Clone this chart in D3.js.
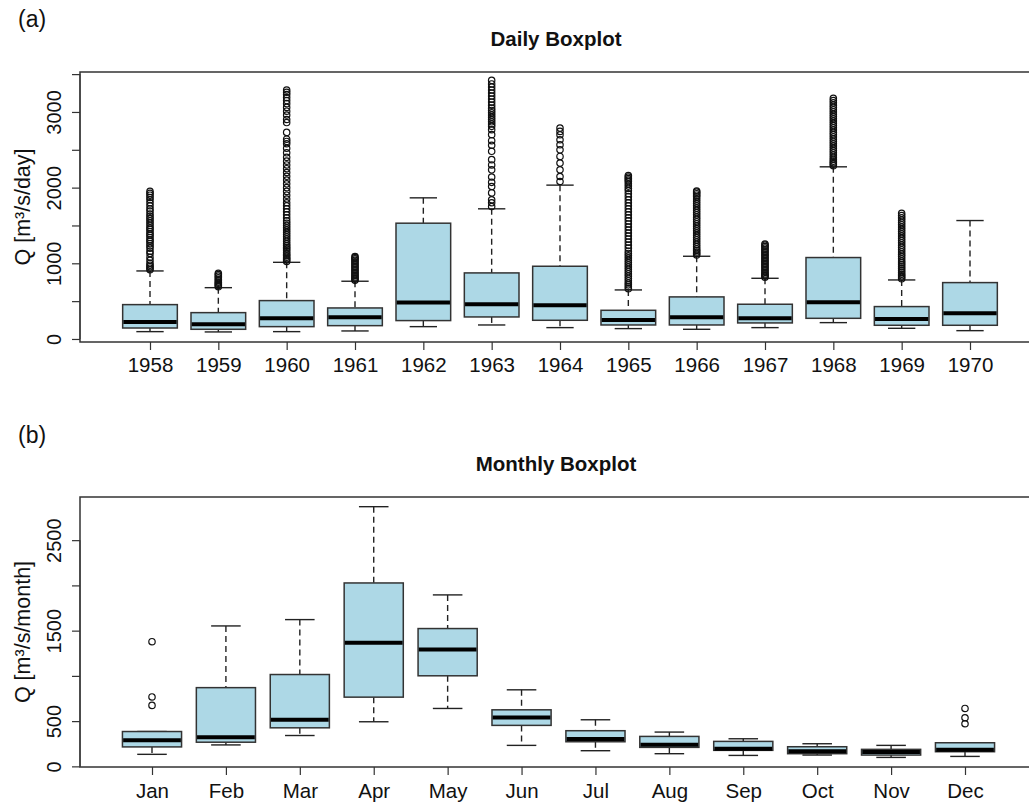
<!DOCTYPE html>
<html>
<head>
<meta charset="utf-8">
<script src="https://cdn.jsdelivr.net/npm/d3@7"></script>
<style>
  body { margin: 0; background: #fff; }
  svg { display: block; font-family: "Liberation Sans", Arial, sans-serif; }
</style>
</head>
<body>
<div id="chart"></div>
<script>
// ---- Daily boxplot data (by year) ----
const years = ["1958", "1959", "1960", "1961", "1962", "1963", "1964", "1965", "1966", "1967", "1968", "1969", "1970"];
const dailyLow = [97, 93, 97, 106, 163, 185, 150, 137, 128, 150, 216, 141, 110];
const dailyQ1 = [145, 128, 163, 176, 243, 291, 247, 185, 185, 212, 273, 181, 181];
const dailyMedian = [225, 194, 273, 287, 481, 459, 446, 251, 287, 273, 485, 265, 340];
const dailyQ3 = [454, 348, 507, 410, 1530, 873, 961, 379, 556, 459, 1076, 428, 745];
const dailyHigh = [899, 678, 1013, 763, 1865, 1720, 2033, 648, 1093, 802, 2275, 780, 1565];
const dailyOutliers = [
  [915, 935, 955, 975, 1000, 1040, 1080, 1130, 1160, 1200, 1230, 1260, 1290, 1310, 1340, 1370, 1390, 1420, 1450, 1470, 1500, 1530, 1560, 1590, 1620, 1650, 1690, 1720, 1760, 1800, 1840, 1870, 1900, 1925, 1950],
  [690, 705, 720, 735, 750, 770, 790, 810, 830, 850, 868],
  [1025, 1045, 1060, 1080, 1100, 1120, 1140, 1165, 1190, 1210, 1235, 1260, 1290, 1320, 1350, 1380, 1410, 1440, 1470, 1500, 1530, 1560, 1600, 1640, 1680, 1720, 1760, 1800, 1850, 1900, 1950, 2000, 2050, 2100, 2150, 2200, 2250, 2300, 2350, 2400, 2460, 2520, 2580, 2610, 2640, 2730, 2860, 2900, 2960, 3010, 3060, 3110, 3150, 3190, 3230, 3260, 3290],
  [775, 790, 805, 820, 840, 860, 880, 900, 920, 940, 960, 980, 1000, 1020, 1040, 1060, 1075, 1089],
  [],
  [1750, 1800, 1840, 1930, 2015, 2070, 2140, 2235, 2300, 2370, 2480, 2560, 2620, 2700, 2765, 2810, 2840, 2870, 2900, 2930, 2960, 2990, 3020, 3050, 3090, 3130, 3170, 3210, 3250, 3290, 3330, 3370, 3417],
  [2081, 2147, 2235, 2324, 2412, 2500, 2566, 2632, 2698, 2743, 2787],
  [665, 690, 715, 740, 770, 800, 830, 860, 890, 920, 950, 980, 1010, 1040, 1070, 1100, 1130, 1160, 1200, 1240, 1280, 1320, 1360, 1400, 1440, 1480, 1520, 1560, 1600, 1640, 1680, 1720, 1760, 1800, 1840, 1880, 1920, 1960, 1990, 2020, 2050, 2080, 2100, 2120, 2140, 2160],
  [1110, 1130, 1150, 1170, 1190, 1220, 1250, 1280, 1310, 1340, 1370, 1400, 1430, 1460, 1490, 1520, 1550, 1580, 1610, 1640, 1670, 1700, 1730, 1760, 1790, 1820, 1850, 1880, 1900, 1920, 1940, 1955],
  [815, 830, 845, 860, 880, 900, 920, 940, 960, 980, 1000, 1020, 1040, 1060, 1080, 1100, 1120, 1140, 1160, 1180, 1200, 1220, 1240, 1255],
  [2290, 2310, 2330, 2350, 2375, 2400, 2430, 2460, 2490, 2520, 2550, 2580, 2610, 2640, 2670, 2700, 2730, 2760, 2790, 2820, 2850, 2880, 2910, 2940, 2970, 3000, 3030, 3060, 3090, 3120, 3150, 3180],
  [795, 815, 835, 855, 880, 905, 930, 955, 980, 1005, 1030, 1060, 1090, 1120, 1150, 1180, 1210, 1240, 1270, 1300, 1330, 1360, 1390, 1420, 1450, 1480, 1510, 1540, 1570, 1600, 1630, 1660],
  []
];
const dailyTicks = [0, 500, 1000, 1500, 2000, 2500, 3000, 3500];
const dailyTickLabels = [0, 1000, 2000, 3000];

// ---- Monthly boxplot data ----
const months = ["Jan", "Feb", "Mar", "Apr", "May", "Jun", "Jul", "Aug", "Sep", "Oct", "Nov", "Dec"];
const monthlyLow = [133, 237, 341, 493, 640, 232, 173, 140, 121, 125, 99, 110];
const monthlyQ1 = [215, 267, 426, 765, 1001, 453, 272, 210, 177, 140, 125, 162];
const monthlyMedian = [289, 322, 515, 1365, 1291, 541, 302, 239, 195, 166, 158, 184];
const monthlyQ3 = [385, 870, 1015, 2027, 1523, 625, 394, 331, 276, 217, 188, 261];
const monthlyHigh = [385, 1552, 1622, 2870, 1895, 846, 515, 379, 305, 250, 232, 261];
const monthlyOutliers = [[674, 767, 1378], [], [], [], [], [], [], [], [], [], [], [471, 537, 640]];
const monthlyTicks = [0, 500, 1000, 1500, 2000, 2500];
const monthlyTickLabels = [0, 500, 1500, 2500];

const W = 1029, H = 805;
const svg = d3.select("#chart").append("svg").attr("width", W).attr("height", H);

function rows(cats, lo, q1, med, q3, hi, out) {
  return cats.map((c, i) => ({ cat: c, lo: lo[i], q1: q1[i], med: med[i], q3: q3[i], hi: hi[i], out: out[i] }));
}

function drawPanel(opts) {
  const { top, bottom, left, right, xFirst, xLast, yDomain, data, ticks, tickLabels, title, ylabel, tag, tagY, titleY, xLabelY } = opts;
  const g = svg.append("g");

  const x = d3.scalePoint().domain(data.map(d => d.cat)).range([xFirst, xLast]);
  const y = d3.scaleLinear().domain(yDomain).range([bottom, top]);
  const boxW = x.step() * 0.8;
  const capW = boxW / 2;

  // tag and title
  g.append("text").attr("x", 18).attr("y", tagY).attr("font-size", 23).attr("fill", "#111").text(tag);
  g.append("text").attr("x", (left + right) / 2 - 2).attr("y", titleY).attr("text-anchor", "middle")
    .attr("font-size", 20.5).attr("font-weight", "bold").attr("fill", "#111").text(title);

  // y axis
  const yAxis = d3.axisLeft(y).tickValues(ticks).tickSize(8).tickSizeOuter(0)
    .tickFormat(d => tickLabels.includes(d) ? d : "");
  const ya = g.append("g").attr("transform", `translate(${left},0)`).call(yAxis);
  ya.select(".domain").attr("stroke", "#333").attr("d", `M0,${y(ticks[0])}V${y(ticks[ticks.length - 1])}`);
  ya.selectAll(".tick line").attr("stroke", "#333").attr("stroke-width", 1.2);
  ya.selectAll(".tick text")
    .attr("font-size", 20).attr("fill", "#111").attr("font-family", "Liberation Sans, Arial, sans-serif")
    .attr("x", null).attr("dy", null).attr("text-anchor", "middle")
    .attr("transform", "translate(-19,0) rotate(-90)");

  g.append("text")
    .attr("transform", `translate(30,${(top + bottom) / 2}) rotate(-90)`)
    .attr("text-anchor", "middle").attr("font-size", 21.5).attr("fill", "#111").text(ylabel);

  // x axis
  const xAxis = d3.axisBottom(x).tickSize(8).tickSizeOuter(0);
  const xa = g.append("g").attr("transform", `translate(0,${bottom})`).call(xAxis);
  xa.select(".domain").remove();
  xa.selectAll(".tick line").attr("stroke", "#333").attr("stroke-width", 1.2);
  xa.selectAll(".tick text").attr("font-size", 20.5).attr("fill", "#111")
    .attr("font-family", "Liberation Sans, Arial, sans-serif").attr("dy", null).attr("y", xLabelY);

  const boxes = g.append("g").selectAll("g").data(data).join("g")
    .attr("transform", d => `translate(${x(d.cat)},0)`);

  // whiskers (dashed) and caps
  boxes.append("line").attr("y1", d => y(d.hi)).attr("y2", d => y(d.q3))
    .attr("stroke", "#222").attr("stroke-width", 1.4).attr("stroke-dasharray", "6,4");
  boxes.append("line").attr("y1", d => y(d.q1)).attr("y2", d => y(d.lo))
    .attr("stroke", "#222").attr("stroke-width", 1.4).attr("stroke-dasharray", "6,4");
  boxes.append("line").attr("x1", -capW / 2).attr("x2", capW / 2)
    .attr("y1", d => y(d.hi)).attr("y2", d => y(d.hi)).attr("stroke", "#222").attr("stroke-width", 1.4);
  boxes.append("line").attr("x1", -capW / 2).attr("x2", capW / 2)
    .attr("y1", d => y(d.lo)).attr("y2", d => y(d.lo)).attr("stroke", "#222").attr("stroke-width", 1.4);

  // box
  boxes.append("rect").attr("x", -boxW / 2).attr("width", boxW)
    .attr("y", d => y(d.q3)).attr("height", d => y(d.q1) - y(d.q3))
    .attr("fill", "#ADD8E6").attr("stroke", "#333").attr("stroke-width", 1.5);
  // median
  boxes.append("line").attr("x1", -boxW / 2 + 0.7).attr("x2", boxW / 2 - 0.7)
    .attr("y1", d => y(d.med)).attr("y2", d => y(d.med)).attr("stroke", "#000").attr("stroke-width", 4);

  // outliers
  boxes.selectAll("circle").data(d => d.out).join("circle")
    .attr("cx", 0).attr("cy", v => y(v)).attr("r", 3.2)
    .attr("fill", "none").attr("stroke", "#111").attr("stroke-width", 1.2);

  // frame
  g.append("rect").attr("x", left).attr("y", top).attr("width", right - left).attr("height", bottom - top)
    .attr("fill", "none").attr("stroke", "#333").attr("stroke-width", 1.5);
}

drawPanel({
  top: 72, bottom: 342, left: 80, right: 1036, xFirst: 150, xLast: 970,
  yDomain: [-40, 3528],
  data: rows(years, dailyLow, dailyQ1, dailyMedian, dailyQ3, dailyHigh, dailyOutliers),
  ticks: dailyTicks, tickLabels: dailyTickLabels,
  title: "Daily Boxplot", ylabel: "Q [m³/s/day]", tag: "(a)", tagY: 27, titleY: 46, xLabelY: 30
});

drawPanel({
  top: 497, bottom: 767, left: 80, right: 1036, xFirst: 152, xLast: 965,
  yDomain: [-7, 2977],
  data: rows(months, monthlyLow, monthlyQ1, monthlyMedian, monthlyQ3, monthlyHigh, monthlyOutliers),
  ticks: monthlyTicks, tickLabels: monthlyTickLabels,
  title: "Monthly Boxplot", ylabel: "Q [m³/s/month]", tag: "(b)", tagY: 443, titleY: 471, xLabelY: 31
});
</script>
</body>
</html>
